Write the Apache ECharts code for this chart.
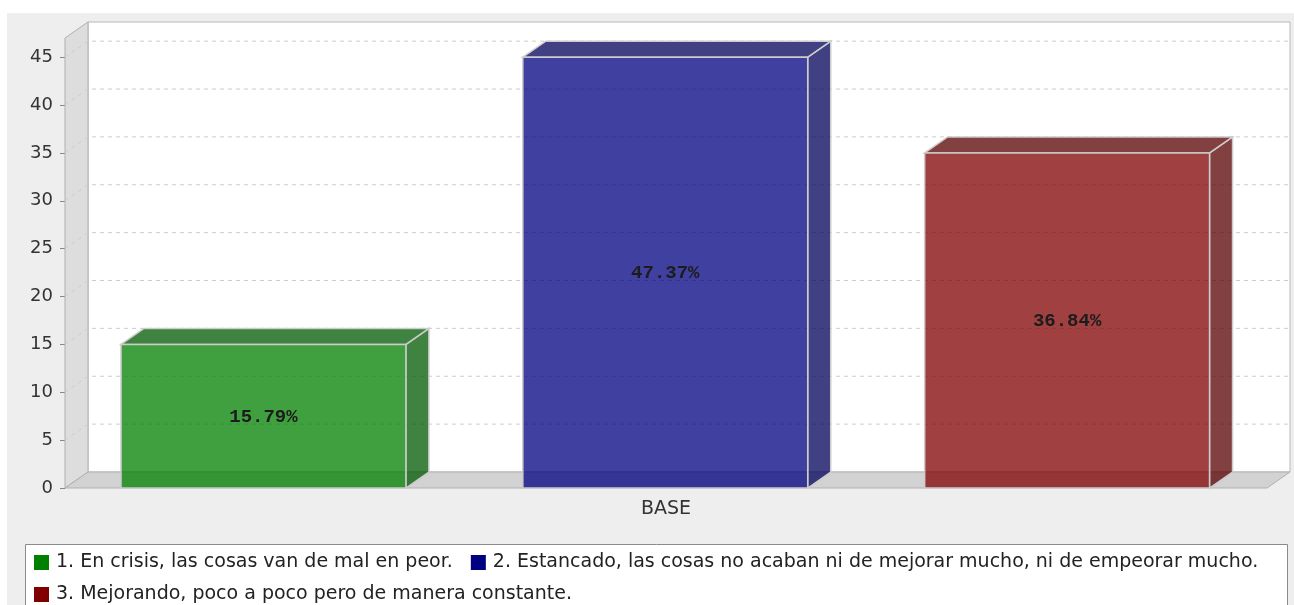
<!DOCTYPE html>
<html>
<head>
<meta charset="utf-8">
<title>BASE</title>
<script src="https://cdn.jsdelivr.net/npm/echarts@6/dist/echarts.min.js"></script>
<style>
  html, body { margin: 0; padding: 0; background: #ffffff; }
  #chart { width: 1294px; height: 605px; }
</style>
</head>
<body>
<div id="chart"></div>
<script>
// data
const categories = ["BASE"];
const seriesNames = [
  "1. En crisis, las cosas van de mal en peor.",
  "2. Estancado, las cosas no acaban ni de mejorar mucho, ni de empeorar mucho.",
  "3. Mejorando, poco a poco pero de manera constante.",
];
const seriesValues = [15, 45, 35];
const yTicks = [0, 5, 10, 15, 20, 25, 30, 35, 40, 45];

// style
const baseColors = ["#008000", "#000080", "#800000"];
const frontColors = ["rgba(0,128,0,0.75)", "rgba(0,0,128,0.75)", "rgba(128,0,0,0.75)"];
const darkColors = ["rgba(0,89,0,0.75)", "rgba(0,0,89,0.75)", "rgba(89,0,0,0.75)"];
const DX = 23, DY = 16; // 3d depth offset
const LOWER = 0.0466, BAR_W = 0.237, GAP = 0.0973;
const FONT = "DejaVu Sans";

const total = seriesValues.reduce((a, b) => a + b, 0);

function renderBar(i) {
  return function (params, api) {
    const cat = api.value(0);
    const v = api.value(1);
    const p0 = api.coord([cat, 0]);
    const p1 = api.coord([cat, v]);
    const band = api.size([1, 0])[0];
    const w = band * BAR_W;
    const x = p0[0] - band / 2 + band * (LOWER + i * (BAR_W + GAP));
    const yb = p0[1];
    const yt = p1[1];
    const edge = { stroke: "#cccccc", lineWidth: 1.5 };
    return {
      type: "group",
      children: [
        {
          type: "polygon",
          shape: { points: [[x + w, yt], [x + w + DX, yt - DY], [x + w + DX, yb - DY], [x + w, yb]] },
          style: Object.assign({ fill: darkColors[i] }, edge),
        },
        {
          type: "polygon",
          shape: { points: [[x, yt], [x + DX, yt - DY], [x + w + DX, yt - DY], [x + w, yt]] },
          style: Object.assign({ fill: darkColors[i] }, edge),
        },
        {
          type: "rect",
          shape: { x: x, y: yt, width: w, height: yb - yt },
          style: Object.assign({ fill: frontColors[i] }, edge),
        },
        {
          type: "text",
          style: {
            text: ((v / total) * 100).toFixed(2) + "%",
            x: x + w / 2,
            y: (yt + yb) / 2 + 1,
            align: "center",
            verticalAlign: "middle",
            font: "bold 19px 'Liberation Mono'",
            fill: "#1c1c1c",
          },
        },
      ],
    };
  };
}

function renderWalls(params, api) {
  const c = params.coordSys;
  const x = c.x, y = c.y, w = c.width, h = c.height;
  return {
    type: "group",
    children: [
      {
        type: "rect",
        shape: { x: x + DX, y: y - DY, width: w, height: h },
        style: { fill: "#ffffff", stroke: "#b8b8b8", lineWidth: 1 },
      },
      {
        type: "polygon",
        shape: { points: [[x, y], [x + DX, y - DY], [x + DX, y + h - DY], [x, y + h]] },
        style: { fill: "#dddddd", stroke: "#b0b0b0", lineWidth: 1 },
      },
      {
        type: "polygon",
        shape: { points: [[x, y + h], [x + DX, y + h - DY], [x + w + DX, y + h - DY], [x + w, y + h]] },
        style: { fill: "#d2d2d2", stroke: "#b0b0b0", lineWidth: 1 },
      },
    ],
  };
}

function renderGrid(params, api) {
  const c = params.coordSys;
  const yy = api.coord([0, api.value(1)])[1];
  if (api.value(1) === 0) return null;
  return {
    type: "polyline",
    shape: { points: [[c.x, yy], [c.x + DX, yy - DY], [c.x + c.width + DX, yy - DY]] },
    style: { stroke: "#cccccc", lineWidth: 1, lineDash: [4, 4], fill: null },
  };
}

const chart = echarts.init(document.getElementById("chart"));

const series = [
  {
    name: "walls",
    type: "custom",
    renderItem: renderWalls,
    data: [[0, 0]],
    z: 1,
    clip: false,
    silent: true,
  },
  {
    name: "grid",
    type: "custom",
    renderItem: renderGrid,
    data: yTicks.map((t) => [0, t]),
    z: 2,
    clip: false,
    silent: true,
  },
];
seriesNames.forEach((name, i) => {
  series.push({
    name: name,
    type: "custom",
    renderItem: renderBar(i),
    itemStyle: { color: baseColors[i] },
    data: [[0, seriesValues[i]]],
    z: 3 + i,
    clip: false,
  });
});

const legendBase = {
  left: 34,
  itemGap: 18,
  itemWidth: 15,
  itemHeight: 15,
  icon: "rect",
  padding: 0,
  textStyle: { fontFamily: FONT, fontSize: 19, color: "#222222", padding: [0, 0, 0, 2] },
};

chart.setOption({
  animation: false,
  backgroundColor: "#ffffff",
  graphic: [
    {
      type: "rect",
      z: -10,
      shape: { x: 7, y: 13, width: 1300, height: 600 },
      style: { fill: "#eeeeee" },
    },
    {
      type: "rect",
      z: -5,
      shape: { x: 25.5, y: 544.5, width: 1262, height: 80 },
      style: { fill: "#ffffff", stroke: "#8a8a8a", lineWidth: 1 },
    },
  ],
  grid: { left: 65, right: 27, top: 38, bottom: 117 },
  legend: [
    Object.assign({ data: seriesNames.slice(0, 2), top: 553 }, legendBase),
    Object.assign({ data: seriesNames.slice(2), top: 585 }, legendBase),
  ],
  xAxis: {
    type: "category",
    data: categories,
    axisLine: { show: false },
    axisTick: { show: false },
    axisLabel: { fontFamily: FONT, fontSize: 19, color: "#333333", margin: 12 },
  },
  yAxis: {
    type: "value",
    min: 0,
    max: 47,
    interval: 5,
    axisLine: { show: false },
    axisTick: { show: true, length: 5, lineStyle: { color: "#888888" }, customValues: yTicks },
    axisLabel: { fontFamily: FONT, fontSize: 18, color: "#333333", margin: 12, customValues: yTicks },
    splitLine: { show: false },
  },
  series: series,
});
</script>
</body>
</html>
